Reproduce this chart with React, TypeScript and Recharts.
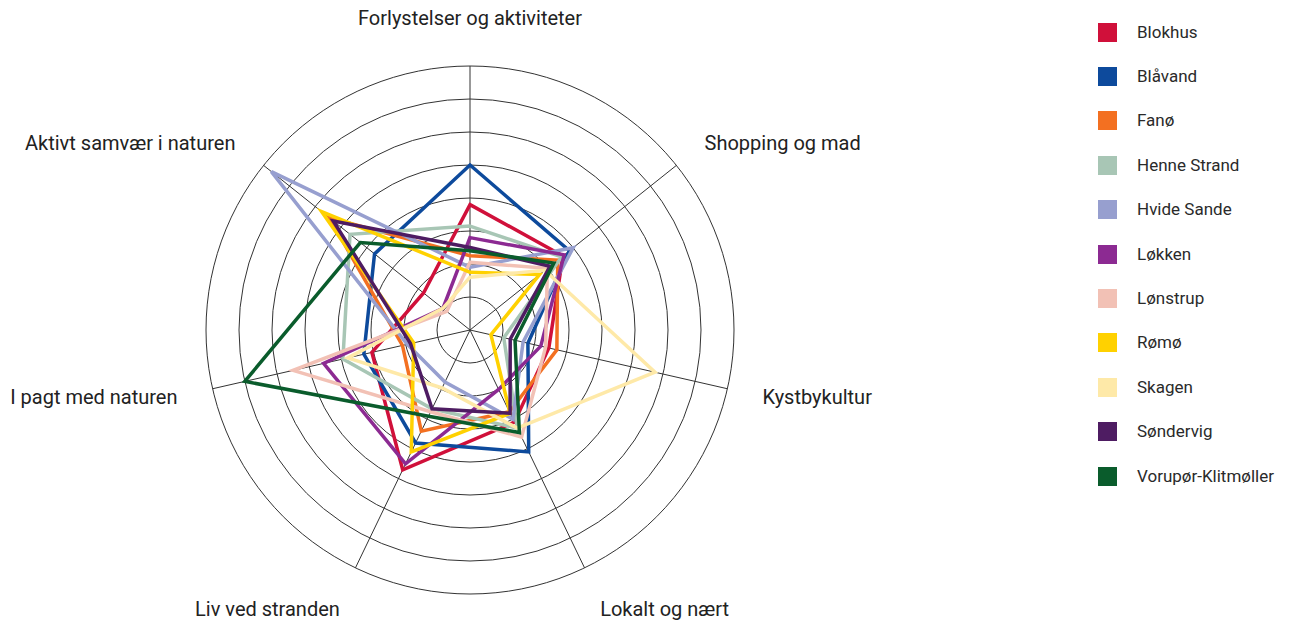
import { RadarChart, Radar, PolarGrid, PolarAngleAxis, PolarRadiusAxis } from 'recharts'

// axes, clockwise from the top
const categories = [
  'Forlystelser og aktiviteter',
  'Shopping og mad',
  'Kystbykultur',
  'Lokalt og nært',
  'Liv ved stranden',
  'I pagt med naturen',
  'Aktivt samvær i naturen',
]

// values per destination, same order as categories (scale 0-8)
const blokhus = [3.8, 3.6, 2.45, 3.1, 4.7, 3.05, 1.8]
const blaavand = [5.0, 3.85, 1.8, 4.1, 3.8, 3.3, 3.7]
const fanoe = [2.25, 3.4, 2.7, 2.75, 3.4, 2.1, 5.45]
const henneStrand = [3.15, 3.55, 1.05, 3.3, 2.65, 3.95, 4.65]
const hvideSande = [1.9, 4.0, 1.65, 3.0, 1.75, 1.95, 7.7]
const loekken = [2.8, 3.65, 2.2, 2.0, 4.5, 4.55, 1.05]
const loenstrup = [2.05, 3.0, 2.35, 3.6, 2.75, 5.5, 0.9]
const romoe = [1.75, 2.7, 0.65, 2.8, 4.1, 1.75, 5.75]
const skagen = [1.6, 2.9, 5.75, 3.3, 1.95, 3.8, 1.05]
const soendervig = [2.5, 3.1, 1.25, 2.8, 2.65, 1.85, 5.3]
const vorupoer = [2.4, 3.25, 1.4, 3.45, 2.9, 7.0, 4.25]

const seriesNames = [
  'Blokhus', 'Blåvand', 'Fanø', 'Henne Strand', 'Hvide Sande', 'Løkken',
  'Lønstrup', 'Rømø', 'Skagen', 'Søndervig', 'Vorupør-Klitmøller',
]
const seriesValues = [
  blokhus, blaavand, fanoe, henneStrand, hvideSande, loekken,
  loenstrup, romoe, skagen, soendervig, vorupoer,
]
const seriesColors = [
  '#D0103A', '#0D4A9C', '#F37021', '#A8C6B5', '#979FCF', '#8C2A92',
  '#F2C1B5', '#FFD100', '#FEE9A8', '#4E1C62', '#0A5C2C',
]

const data = categories.map((name, i) => {
  const row: Record<string, string | number> = { name }
  seriesNames.forEach((s, k) => { row[s] = seriesValues[k][i] })
  return row
})

const CX = 470
const CY = 330
const R = 264
const FONT = 'Roboto, "Noto Sans", sans-serif'

function AngleTick(props: any) {
  const { payload } = props
  const cx = props.cx ?? CX
  const cy = props.cy ?? CY
  const rad = (-payload.coordinate * Math.PI) / 180
  const dx = Math.cos(rad)
  const dy = Math.sin(rad)
  const r = 300
  const x = cx + dx * r
  let y = cy + dy * r
  if (dy < -0.9) y -= 12
  if (dy > 0.8) y += 9
  const anchor = Math.abs(dx) < 0.1 ? 'middle' : dx > 0 ? 'start' : 'end'
  return (
    <text x={x} y={y} textAnchor={anchor} dominantBaseline="central" fill="#222" fontSize={20} fontFamily={FONT}>
      {payload.value}
    </text>
  )
}

function Legend() {
  return (
    <div style={{ position: 'absolute', left: 1098, top: 10, fontFamily: FONT }}>
      {seriesNames.map((s, k) => (
        <div key={s} style={{ display: 'flex', alignItems: 'center', height: 44.4 }}>
          <div style={{ width: 19, height: 19, background: seriesColors[k] }} />
          <span style={{ marginLeft: 20, fontSize: 17, color: '#2a2a2a', lineHeight: '19px' }}>{s}</span>
        </div>
      ))}
    </div>
  )
}

export default function App() {
  return (
    <div style={{ position: 'absolute', left: 0, top: 0, width: 1294, height: 627, background: '#fff' }}>
      <RadarChart width={1294} height={627} data={data} cx={CX} cy={CY} outerRadius={R} margin={{ top: 0, right: 0, bottom: 0, left: 0 }}>
        <PolarGrid gridType="circle" stroke="#333" strokeWidth={1} />
        <PolarAngleAxis dataKey="name" tick={<AngleTick />} tickLine={false} axisLine={false} />
        <PolarRadiusAxis domain={[0, 8]} tickCount={9} tick={false} axisLine={false} />
        {seriesNames.map((s, k) => (
          <Radar
            key={s}
            dataKey={s}
            stroke={seriesColors[k]}
            strokeWidth={3.5}
            fill="none"
            fillOpacity={0}
            dot={false}
            isAnimationActive={false}
          />
        ))}
      </RadarChart>
      <Legend />
    </div>
  )
}
